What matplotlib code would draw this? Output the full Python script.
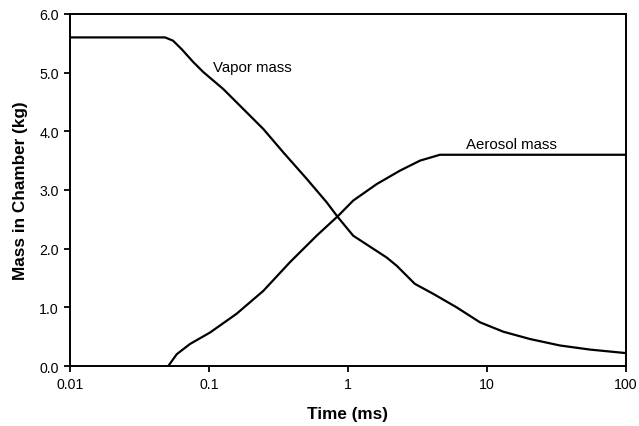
import matplotlib
matplotlib.use("Agg")
import matplotlib.pyplot as plt
import matplotlib.ticker as ticker

plt.rcParams["font.family"] = ["Liberation Sans", "DejaVu Sans"]

# ── curves (time in ms, mass in kg) ───────────────────────────────────────────
vapor_t = [0.01, 0.0483, 0.0551, 0.0636, 0.0771, 0.0910, 0.1268, 0.1766, 0.246,
           0.343, 0.505, 0.703, 0.851, 1.092, 1.897, 2.24, 3.03, 4.11, 6.05,
           8.91, 13.1, 20.4, 33.5, 55.1, 100.0]
vapor_m = [5.60, 5.60, 5.545, 5.40, 5.18, 5.01, 4.72, 4.38, 4.04,
           3.64, 3.19, 2.79, 2.53, 2.22, 1.85, 1.71, 1.40, 1.23, 1.00,
           0.745, 0.585, 0.46, 0.35, 0.28, 0.22]

aerosol_t = [0.0510, 0.0586, 0.0730, 0.1017, 0.158, 0.246, 0.383, 0.595, 0.851,
             1.092, 1.61, 2.37, 3.30, 4.59, 100.0]
aerosol_m = [0.0, 0.20, 0.375, 0.57, 0.89, 1.28, 1.77, 2.22, 2.56,
             2.82, 3.10, 3.33, 3.50, 3.60, 3.60]

x_ticks = [0.01, 0.1, 1, 10, 100]
x_labels = ["0.01", "0.1", "1", "10", "100"]
y_ticks = [0.0, 1.0, 2.0, 3.0, 4.0, 5.0, 6.0]

fig = plt.figure(figsize=(6.39, 4.27), dpi=100)
ax = fig.add_axes([0.1095, 0.1405, 0.870, 0.8245])

ax.plot(vapor_t, vapor_m, color="black", lw=1.6, solid_joinstyle="round")
ax.plot(aerosol_t, aerosol_m, color="black", lw=1.6, solid_joinstyle="round")

ax.set_xscale("log")
ax.set_xlim(0.01, 100)
ax.set_ylim(0, 6)
ax.set_xticks(x_ticks)
ax.set_xticklabels(x_labels)
ax.xaxis.set_minor_locator(ticker.NullLocator())
ax.set_yticks(y_ticks)
ax.yaxis.set_major_formatter(ticker.FormatStrFormatter("%.1f"))
ax.tick_params(direction="out", length=4, width=1.3, labelsize=10.2, pad=4)

for s in ax.spines.values():
    s.set_linewidth(1.4)

ax.set_xlabel("Time (ms)", fontsize=12.3, fontweight="bold", labelpad=11)
ax.set_ylabel("Mass in Chamber (kg)", fontsize=12.3, fontweight="bold", labelpad=8)

ax.text(0.107, 5.10, "Vapor mass", fontsize=10.8, va="center", ha="left")
ax.text(7.1, 3.78, "Aerosol mass", fontsize=10.8, va="center", ha="left")

fig.savefig("out.png", dpi=100)
